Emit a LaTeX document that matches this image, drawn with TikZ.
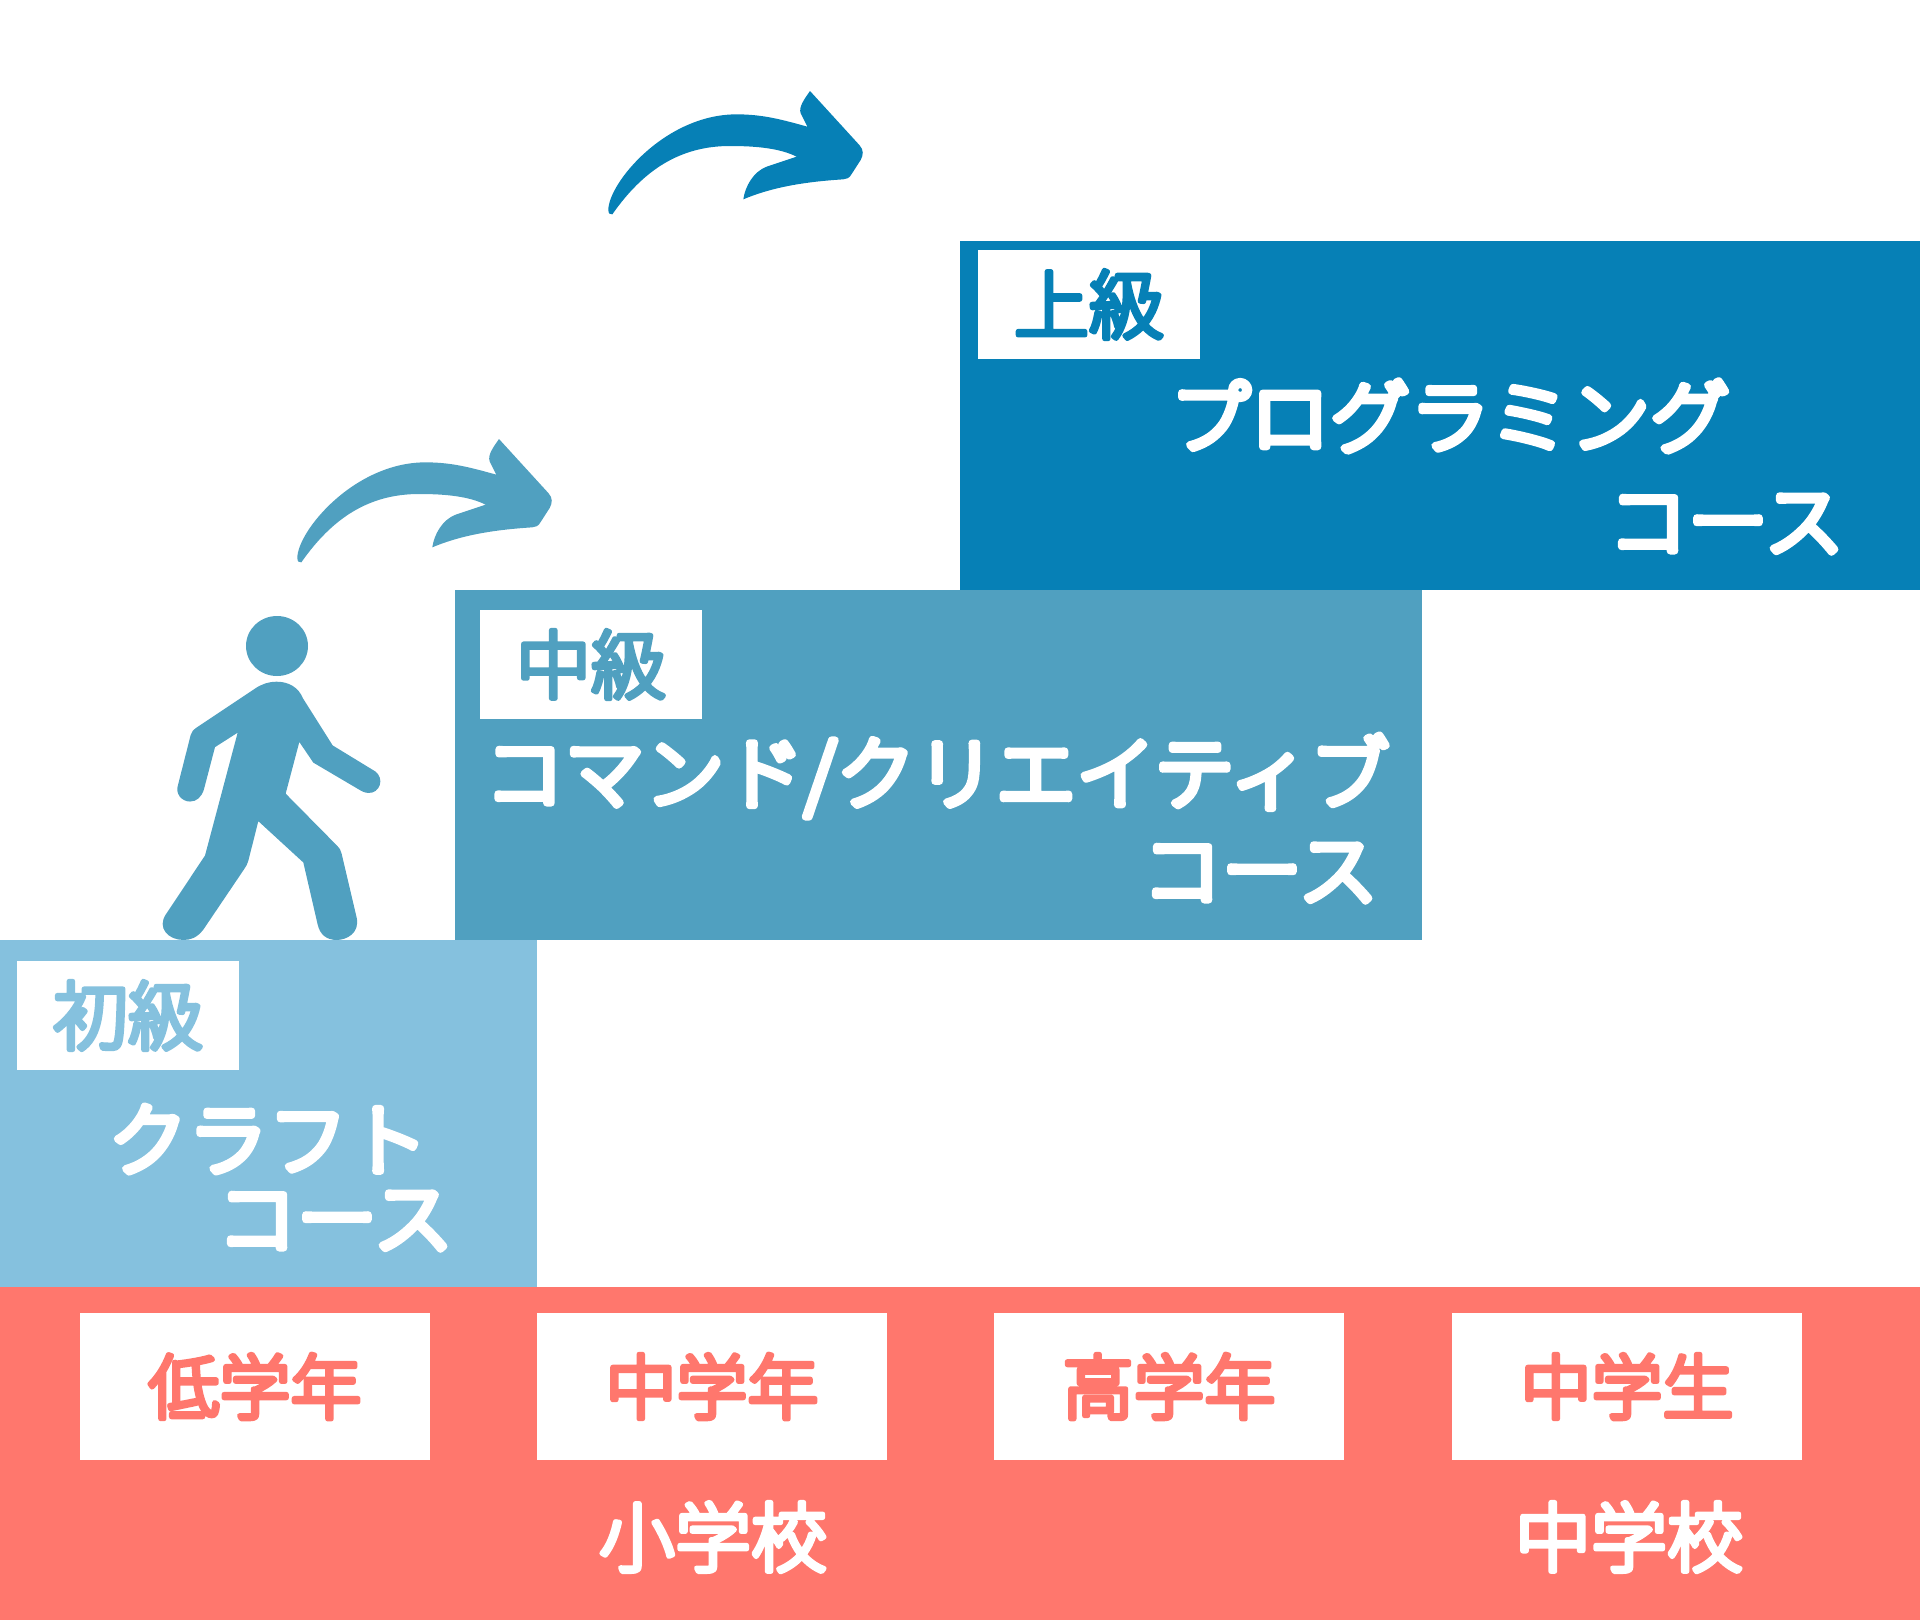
\documentclass[tikz,border=0pt]{standalone}
\usepackage{fontspec}
\usepackage{xcolor}
\newfontfamily\jpfont{Noto Sans CJK JP Light}
\definecolor{lowblue}{HTML}{85C1DE}
\definecolor{midblue}{HTML}{50A0C0}
\definecolor{topblue}{HTML}{0680B6}
\definecolor{schoolred}{HTML}{FF776D}

% round stroke around the letters
\newcommand{\rnd}[1]{\special{pdf:code q 1 j 1 J 2 Tr 7 w}#1\special{pdf:code Q}}
\newcommand{\rndk}[1]{\special{pdf:code q 1 j 1 J 2 Tr 5 w}#1\special{pdf:code Q}}

\tikzset{
  block/.style={anchor=north west, inner sep=0pt, outer sep=0pt},
  title/.style={text=white, font=\jpfont\fontsize{80}{80}\selectfont},
  school/.style={text=white, font=\jpfont\fontsize{76}{76}\selectfont},
  grade/.style={block, fill=white, minimum width=350pt, minimum height=147pt},
  gradetext/.style={text=schoolred, font=\jpfont\fontsize{71}{71}\selectfont},
  level/.style={block, fill=white, minimum width=222pt, minimum height=109pt},
  leveltext/.style={font=\jpfont\fontsize{75}{75}\selectfont}
}

\newcommand{\jumparrow}[3]{%
  \fill[#3, shift={(#1,#2)}, x=1pt/3, y=-1pt/3]
    (85,420) .. controls (85,340) and (255,133) .. (470,133)
    .. controls (550,133) and (610,150) .. (682,170)
    -- (662,130) .. controls (655,110) and (675,85) .. (690,63)
    -- (838,225) .. controls (852,240) and (850,255) .. (842,270)
    -- (815,312) .. controls (808,325) and (800,327) .. (790,328)
    .. controls (680,335) and (580,350) .. (490,388)
    .. controls (495,350) and (520,305) .. (560,290)
    -- (650,260) .. controls (600,235) and (530,228) .. (450,228)
    .. controls (300,228) and (190,300) .. (97,433)
    .. controls (90,435) and (85,430) .. (85,420) -- cycle;}

\begin{document}
\begin{tikzpicture}[x=1pt, y=-1pt]
  \useasboundingbox (0,0) rectangle (1920,1620);

  % steps
  \node[block, fill=schoolred, minimum width=1920pt, minimum height=333pt] (base) at (0,1287) {};
  \node[block, fill=lowblue, minimum width=537pt, minimum height=347pt] (low) at (0,940) {};
  \node[block, fill=midblue, minimum width=967pt, minimum height=350pt] (mid) at (455,590) {};
  \node[block, fill=topblue, minimum width=960pt, minimum height=349pt] (top) at (960,241) {};

  % level tags
  \node[level] (lowtag) at (17,961)  {};
  \node[level] (midtag) at (480,610) {};
  \node[level] (toptag) at (978,250) {};
  \node[leveltext, text=lowblue] (lowname) at (lowtag.center) {\rndk{初級}};
  \node[leveltext, text=midblue] (midname) at (midtag.center) {\rndk{中級}};
  \node[leveltext, text=topblue] (topname) at (toptag.center) {\rndk{上級}};

  % course names
  \node[title] (craft)    at (268,1139) {\rnd{クラフト}};
  \node[title] (craftc)   at (335,1221) {\rnd{コース}};
  \node[title] (command)  at (937,776)  {\rnd{コマンド/クリエイティブ}};
  \node[title] (commandc) at (1260,873) {\rnd{コース}};
  \node[title] (prog)     at (1450,416) {\rnd{プログラミング}};
  \node[title] (progc)    at (1726,524) {\rnd{コース}};

  % grades
  \node[grade] (g1) at (80,1313)   {};
  \node[grade] (g2) at (537,1313)  {};
  \node[grade] (g3) at (994,1313)  {};
  \node[grade] (g4) at (1452,1313) {};
  \node[gradetext] (g1name) at (g1.center) {\rndk{低学年}};
  \node[gradetext] (g2name) at (g2.center) {\rndk{中学年}};
  \node[gradetext] (g3name) at (g3.center) {\rndk{高学年}};
  \node[gradetext] (g4name) at (g4.center) {\rndk{中学生}};
  \node[school] (elem)   at (713,1537)  {\rndk{小学校}};
  \node[school] (junior) at (1629,1537) {\rndk{中学校}};

  % walker
  \fill[midblue] (277,646) ellipse (31pt and 30pt);
  \fill[midblue, shift={(140,420)}, x=1pt/3, y=-1pt/2.904]
    (410,760) .. controls (445,760) and (475,775) .. (490,810)
    -- (578,945) -- (705,1020) .. controls (735,1040) and (720,1085) .. (685,1083)
    .. controls (675,1083) and (665,1078) .. (655,1072)
    -- (520,995) -- (478,935) -- (437,1085) -- (590,1235)
    .. controls (600,1245) and (603,1250) .. (605,1260)
    -- (650,1445) .. controls (660,1490) and (620,1510) .. (590,1510)
    .. controls (560,1510) and (540,1495) .. (533,1465)
    -- (490,1285) -- (355,1165) -- (325,1280)
    .. controls (322,1290) and (318,1297) .. (312,1305)
    -- (190,1480) .. controls (170,1505) and (150,1510) .. (130,1510)
    .. controls (85,1510) and (50,1475) .. (78,1435)
    -- (195,1265) -- (293,908) -- (225,950) -- (192,1072)
    .. controls (185,1095) and (170,1108) .. (150,1108)
    .. controls (125,1108) and (105,1085) .. (114,1060)
    -- (152,915) .. controls (155,905) and (160,900) .. (170,893)
    -- (345,780) .. controls (365,767) and (385,760) .. (410,760) -- cycle;

  % arrows
  \jumparrow{580}{70}{topblue}
  \jumparrow{269}{418}{midblue}
\end{tikzpicture}
\end{document}
